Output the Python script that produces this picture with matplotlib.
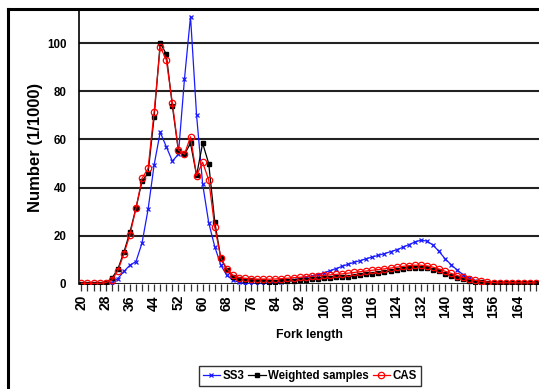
import matplotlib
matplotlib.use("Agg")
import matplotlib.pyplot as plt
from matplotlib.lines import Line2D
import numpy as np

# fork length classes (cm)
fork_length = list(range(20, 171, 2))

ss3 = [0, 0, 0, 0, 0.1, 0.6, 2.2, 5.2, 7.8, 9.3,
       17, 31, 49.5, 63, 57, 51, 53.8, 85, 111, 70,
       41.5, 25.5, 15.5, 7.8, 3.6, 1.6, 0.7, 0.3, 0.1, 0.1,
       0.2, 0.3, 0.5, 0.8, 1.2, 1.7, 2.2, 2.7, 3.2, 3.9,
       4.6, 5.5, 6.4, 7.3, 8.2, 9.0, 9.7, 10.5, 11.2, 11.9,
       12.6, 13.4, 14.2, 15.2, 16.3, 17.4, 18.2, 17.8, 16.2, 13.5,
       10.5, 8.0, 5.8, 3.8, 2.4, 1.4, 0.8, 0.4, 0.2, 0.1,
       0, 0, 0, 0, 0, 0]

weighted = [0, 0, 0, 0, 0.5, 2.3, 6.1, 13.2, 21.5, 31.5,
            42.7, 46, 69.4, 100, 95.4, 74, 55.3, 53.8, 58.4, 45.1,
            58.4, 50, 25.9, 10.6, 5.9, 3.0, 2.1, 1.7, 1.6, 1.3,
            1.1, 1.0, 1.0, 1.1, 1.2, 1.3, 1.5, 1.7, 1.9, 2.1,
            2.3, 2.5, 2.7, 2.9, 3.1, 3.4, 3.7, 4.0, 4.3, 4.6,
            4.9, 5.3, 5.7, 6.1, 6.5, 6.8, 6.8, 6.5, 6.0, 5.2,
            4.3, 3.4, 2.6, 1.9, 1.4, 1.0, 0.7, 0.5, 0.4, 0.4,
            0.4, 0.4, 0.4, 0.4, 0.4, 0.4]

cas = [0.3, 0.3, 0.3, 0.3, 0.6, 1.6, 5.5, 12.4, 20.4, 31.4,
       43.8, 48, 71.5, 98.5, 93, 75.2, 55.6, 53.9, 61.1, 45,
       50.5, 43.2, 23.6, 10.8, 6.2, 3.6, 2.6, 2.3, 2.1, 2.0,
       2.0, 2.0, 2.1, 2.2, 2.4, 2.6, 2.8, 3.0, 3.2, 3.4,
       3.6, 3.8, 4.0, 4.2, 4.5, 4.8, 5.1, 5.4, 5.7, 6.0,
       6.3, 6.6, 7.0, 7.3, 7.6, 7.8, 7.8, 7.5, 7.0, 6.2,
       5.3, 4.4, 3.5, 2.7, 2.0, 1.5, 1.1, 0.8, 0.6, 0.5,
       0.5, 0.5, 0.5, 0.5, 0.5, 0.5]

y_ticks = [0, 20, 40, 60, 80, 100]

fam = ["Liberation Sans", "DejaVu Sans"]

fig = plt.figure(figsize=(5.39, 3.89), dpi=100)
W, H = 539, 389
ax = fig.add_axes([79 / W, (H - 284) / H, 1 - 79 / W, (284 - 10) / H])

ax.plot(fork_length, ss3, color="#1a1aff", lw=0.9, marker="x", ms=3.2, mew=0.9,
        label="SS3", zorder=3)
ax.plot(fork_length, weighted, color="black", lw=0.9, marker="s", ms=2.3,
        label="Weighted samples", zorder=4)
ax.plot(fork_length, cas, color="red", lw=0.9, marker="o", ms=4.6, mfc="none",
        mew=0.9, label="CAS", zorder=5)

ax.set_xlim(19.2, 171)
ax.set_ylim(0, 113.7)

# gridlines
for v in y_ticks:
    ax.axhline(v, color="#222222", lw=1.5, zorder=1)

for s in ["top", "right", "bottom"]:
    ax.spines[s].set_visible(False)
ax.spines["left"].set_linewidth(1.2)

ax.set_yticks(y_ticks)
ax.set_yticklabels([str(v) for v in y_ticks], family=fam, fontweight="bold",
                   fontsize=8.3)
ax.tick_params(axis="y", length=0, pad=9)

ax.set_xticks(fork_length)
ax.set_xticklabels([str(v) if (v - 20) % 8 == 0 else "" for v in fork_length],
                   rotation=90, family=fam, fontweight="bold", fontsize=10)
ax.tick_params(axis="x", length=5, width=0.9, color="#333333", pad=3)

ax.set_xlabel("Fork length", family=fam, fontweight="bold", fontsize=8.8,
              labelpad=8)
ax.set_ylabel("Number (1/1000)", family=fam, fontweight="bold", fontsize=12)
ax.yaxis.set_label_coords(-0.078, 0.5)

leg = fig.legend(loc="upper center", bbox_to_anchor=(310 / W, (H - 366) / H),
                 ncol=3, frameon=True, fancybox=False, edgecolor="black",
                 borderaxespad=0, handlelength=1.5, handletextpad=0.25,
                 columnspacing=0.3, borderpad=0.35,
                 prop={"family": fam, "weight": "bold", "size": 8.3})
leg.get_frame().set_linewidth(1.0)

# outer chart border (left and top only visible)
fig.add_artist(Line2D([7.5 / W, 7.5 / W], [0, (H - 9) / H], color="black", lw=2.2,
                      transform=fig.transFigure))
fig.add_artist(Line2D([7.5 / W, 1], [(H - 9) / H, (H - 9) / H], color="black", lw=2.2,
                      transform=fig.transFigure))

fig.savefig("out.png", dpi=100)
